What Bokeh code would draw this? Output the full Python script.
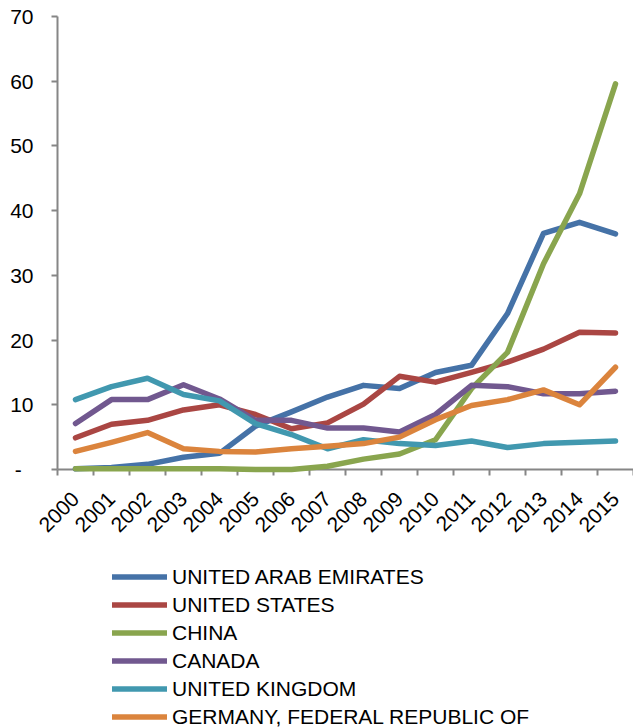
import math
from bokeh.plotting import figure
from bokeh.models import FixedTicker, Legend, LegendItem
from bokeh.embed import file_html
from bokeh.resources import INLINE

years = ["2000", "2001", "2002", "2003", "2004", "2005", "2006", "2007",
         "2008", "2009", "2010", "2011", "2012", "2013", "2014", "2015"]

uae = [0.1, 0.3, 0.8, 1.9, 2.5, 6.7, 8.9, 11.2, 13.0, 12.5, 15.0, 16.1, 24.1, 36.5, 38.2, 36.4]
usa = [4.9, 7.0, 7.6, 9.2, 10.0, 8.5, 6.3, 7.2, 10.1, 14.4, 13.5, 15.0, 16.6, 18.6, 21.2, 21.1]
china = [0.1, 0.1, 0.1, 0.1, 0.1, 0.0, 0.0, 0.5, 1.6, 2.4, 4.6, 12.5, 18.1, 31.8, 42.6, 59.6]
canada = [7.1, 10.8, 10.8, 13.1, 10.9, 7.6, 7.6, 6.4, 6.4, 5.8, 8.5, 13.0, 12.8, 11.7, 11.7, 12.1]
uk = [10.8, 12.8, 14.1, 11.6, 10.6, 7.1, 5.4, 3.2, 4.6, 4.0, 3.7, 4.4, 3.4, 4.0, 4.2, 4.4]
germany = [2.8, 4.2, 5.7, 3.2, 2.8, 2.7, 3.2, 3.6, 4.0, 5.0, 7.7, 9.9, 10.8, 12.3, 10.0, 15.8]

series_names = ["UNITED ARAB EMIRATES", "UNITED STATES", "CHINA", "CANADA",
                "UNITED KINGDOM", "GERMANY, FEDERAL REPUBLIC OF"]
series_values = [uae, usa, china, canada, uk, germany]
series_colors = ["#4572A7", "#AA4643", "#89A54E", "#71588F", "#4198AF", "#DB843D"]

y_ticks = [0, 10, 20, 30, 40, 50, 60, 70]
Y_MAX = 70

FONT = "Liberation Sans"
FS = "21px"
GRAY = "#868686"

# layout (pixels): the frame covers the whole canvas, axes sit at data zero
W, H = 633, 727
TOP, LEFT = 16, 57
PLOT_H = 453                       # pixel height of the 0..70 span
n_cat = len(years)
px_per_unit = PLOT_H / Y_MAX
px_per_cat = (W - LEFT) / n_cat
y_start = -(H - TOP - PLOT_H) / px_per_unit
y_end = Y_MAX + TOP / px_per_unit
x_start = -LEFT / px_per_cat

xs = [i + 0.5 for i in range(n_cat)]

p = figure(width=W, height=H, output_backend="svg", toolbar_location=None,
           x_range=(x_start, n_cat), y_range=(y_start, y_end),
           min_border_left=0, min_border_right=0, min_border_top=0,
           min_border_bottom=0)
p.outline_line_color = None
p.xgrid.visible = False
p.ygrid.visible = False
p.background_fill_color = "white"
p.border_fill_color = "white"

renderers = []
for name, vals, col in zip(series_names, series_values, series_colors):
    r = p.line(xs, vals, line_color=col, line_width=5.5, line_cap="round",
               line_join="round", level="overlay")
    renderers.append(r)

# x axis (sits on zero)
xa = p.xaxis[0]
xa.fixed_location = 0
xa.bounds = (0, n_cat)
xa.ticker = FixedTicker(ticks=xs, minor_ticks=list(range(n_cat + 1)))
xa.major_label_overrides = {x: y for x, y in zip(xs, years)}
xa.major_label_orientation = math.pi / 4
xa.major_tick_out = 0
xa.major_tick_in = 0
xa.minor_tick_out = 6
xa.minor_tick_in = 0
xa.minor_tick_line_color = GRAY
xa.minor_tick_line_width = 2
xa.axis_line_color = GRAY
xa.axis_line_width = 2
xa.major_label_text_font = FONT
xa.major_label_text_font_size = FS
xa.major_label_text_color = "black"
xa.major_label_standoff = 20

# y axis (sits on x = 0)
ya = p.yaxis[0]
ya.fixed_location = 0
ya.bounds = (0, Y_MAX)
ya.ticker = FixedTicker(ticks=y_ticks)
ya.major_label_overrides = {0: "-\u00a0\u00a0"}
ya.major_tick_out = 6
ya.major_tick_in = 0
ya.minor_tick_out = 0
ya.minor_tick_in = 0
ya.major_tick_line_color = GRAY
ya.major_tick_line_width = 2
ya.axis_line_color = GRAY
ya.axis_line_width = 2
ya.major_label_text_font = FONT
ya.major_label_text_font_size = FS
ya.major_label_text_color = "black"
ya.major_label_standoff = 18

legend = Legend(items=[LegendItem(label=n, renderers=[r]) for n, r in zip(series_names, renderers)],
                location=(112, -3))
legend.label_text_font = FONT
legend.label_text_font_size = FS
legend.label_text_color = "black"
legend.glyph_width = 55
legend.glyph_height = 27
legend.label_height = 27
legend.spacing = 1
legend.padding = 0
legend.margin = 0
legend.label_standoff = 5
legend.border_line_alpha = 0
legend.background_fill_alpha = 0
p.add_layout(legend, "center")

open("out.html", "w").write(file_html(p, INLINE))
